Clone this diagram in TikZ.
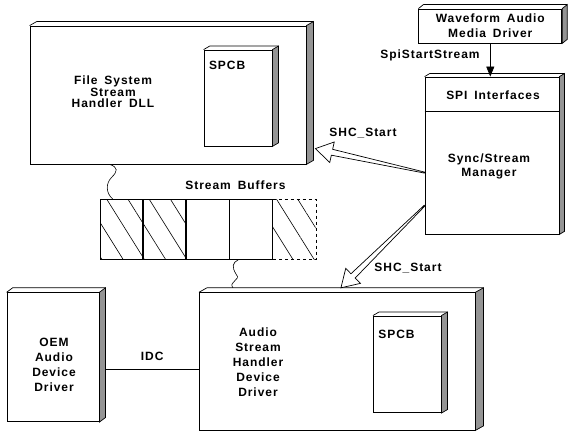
\documentclass[tikz,border=0pt]{standalone}
\usepackage{fontspec}
\setmainfont{Liberation Sans}[LetterSpace=8,WordSpace=1.6]
\usepackage{tikz}
\usetikzlibrary{positioning,arrows.meta,calc,patterns.meta}
\definecolor{sidegray}{gray}{0.58}

% raised right side and top edge of a box
\newcommand\slabside[3]{%
	\filldraw[fill=sidegray, line width=0.7pt] (#1.north east) -- ++(#2,-#3) -- ($(#1.south east)+(#2,-#3)$) -- (#1.south east) -- cycle;
	\draw[line width=0.7pt] (#1.north west) -- ++(#2,-#3) -- ($(#1.north east)+(#2,-#3)$);
}
% tapered hollow arrow from tail to tip
\newcommand\hollowarrow[2]{%
	\coordinate (hb) at ($(#2)!17pt!(#1)$);
	\filldraw[fill=white, line width=0.7pt] ($(#1)!0.5pt!90:(#2)$) -- ($(hb)!3pt!90:(#2)$) -- ($(hb)!10.5pt!90:(#2)$) -- (#2)
		-- ($(hb)!10.5pt!-90:(#2)$) -- ($(hb)!3pt!-90:(#2)$) -- ($(#1)!0.5pt!-90:(#2)$) -- cycle;
}

\begin{document}
\begin{tikzpicture}[x=1pt, y=-1pt, >=Stealth, line width=0.8pt,
	box/.style={draw, fill=white, inner sep=0pt},
	lbl/.style={font=\fontsize{12}{15}\selectfont\bfseries, align=center, inner sep=1pt},
	cell/.style={draw, minimum width=42.5, minimum height=60, inner sep=0pt},
	hatched/.style={pattern={Lines[angle=-58, distance=18pt, line width=0.6pt]}}]
	\useasboundingbox (0,0) rectangle (576,436);
	% file system stream handler
	\node[box, minimum width=276, minimum height=138] (fs) at (168,95) {};
	\slabside{fs}{7}{4}
	\node[box, minimum width=68, minimum height=96] (fs spcb) at (238,98) {};
	\slabside{fs spcb}{6}{3.5}
	\node[lbl, font=\fontsize{12}{10.8}\selectfont\bfseries] (fs text) at (113,92) {File System\\Stream\\Handler DLL};
	\node[lbl, anchor=west] (fs spcb text) at ($(fs spcb.north west)+(4,16)$) {SPCB};
	% waveform driver and spi
	\node[box, lbl, minimum width=143, minimum height=34] (wave) at (490.3,26) {Waveform Audio\\Media Driver};
	\slabside{wave}{5}{4}
	\node[box, minimum width=134, minimum height=157] (spi) at (492,155.5) {};
	\slabside{spi}{5}{3}
	\draw ($(spi.north west)+(0,35)$) -- ($(spi.north east)+(0,35)$);
	\node[lbl] (spi head) at (493,95) {SPI Interfaces};
	\node[lbl, font=\fontsize{12}{14}\selectfont\bfseries] (sync) at (489,166) {Sync/Stream\\Manager};
	\draw[-{Triangle[length=10pt,width=8pt]}] (wave.south) -- (wave.south |- spi.north);
	\node[lbl] (spi call) at (430,55) {SpiStartStream};
	% stream buffers
	\node[cell, hatched] (b1) at (121.25,229.3) {};
	\node[cell, hatched, right=0pt of b1] (b2) {};
	\node[cell, right=0pt of b2] (b3) {};
	\node[cell, right=0pt of b3] (b4) {};
	\node[cell, hatched, draw=none, right=0pt of b4] (b5) {};
	\draw[dashed] (b5.north west) -- (b5.north east) -- (b5.south east) -- (b5.south west);
	\node[lbl] (buf label) at (235.5,185) {Stream Buffers};
	% oem driver
	\node[box, minimum width=92, minimum height=129] (oem) at (53,357.2) {};
	\slabside{oem}{6}{4.5}
	\node[lbl] (oem text) at (54,364.5) {OEM\\Audio\\Device\\Driver};
	% audio stream handler
	\node[box, minimum width=275.7, minimum height=137.3] (ash) at (337.2,361.35) {};
	\slabside{ash}{8}{4.5}
	\node[box, minimum width=67.7, minimum height=96.7] (ash spcb) at (407.2,364.3) {};
	\slabside{ash spcb}{6}{3.5}
	\node[lbl] (ash text) at (258,362) {Audio\\Stream\\Handler\\Device\\Driver};
	\node[lbl, anchor=west] (ash spcb text) at ($(ash spcb.north west)+(4,18.5)$) {SPCB};
	% idc link
	\coordinate (idc a) at ($(oem.south east)+(6,-52.4)$);
	\draw (idc a) -- node[lbl, above=8pt] (idc) {IDC} (idc a -| ash.west);
	% buffer taps
	\coordinate (fs tap) at ($(fs.south west)+(80,0)$);
	\coordinate (b1 tap) at ($(b1.north west)+(13,0)$);
	\draw[line width=0.6pt] (fs tap) .. controls ($(fs tap)+(9,3)$) and ($(fs tap)+(8,7)$) .. ($(fs tap)+(2,13)$)
		.. controls ($(fs tap)+(-4,19)$) and ($(b1 tap)+(-7,-6)$) .. (b1 tap);
	\coordinate (b4 tap) at ($(b4.south west)+(9,0)$);
	\coordinate (ash tap) at ($(ash.north west)+(34,-4.5)$);
	\draw[line width=0.6pt] (b4 tap) .. controls ($(b4 tap)+(-6,3)$) and ($(b4 tap)+(-7,7)$) .. ($(b4 tap)+(-2,15)$)
		.. controls ($(b4 tap)+(3,20)$) and ($(ash tap)+(-5,-6)$) .. (ash tap);
	% shc start calls
	\coordinate (shc1 tail) at ($(spi.north west)+(0,96)$);
	\coordinate (shc1 tip) at ($(fs.north east)+(9,123)$);
	\hollowarrow{shc1 tail}{shc1 tip}
	\node[lbl] (shc1) at (363,133) {SHC\_Start};
	\coordinate (shc2 tail) at ($(spi.north west)+(0,129)$);
	\coordinate (shc2 tip) at ($(ash.north west)+(142,-4.5)$);
	\hollowarrow{shc2 tail}{shc2 tip}
	\node[lbl] (shc2) at (408,268) {SHC\_Start};
\end{tikzpicture}
\end{document}
